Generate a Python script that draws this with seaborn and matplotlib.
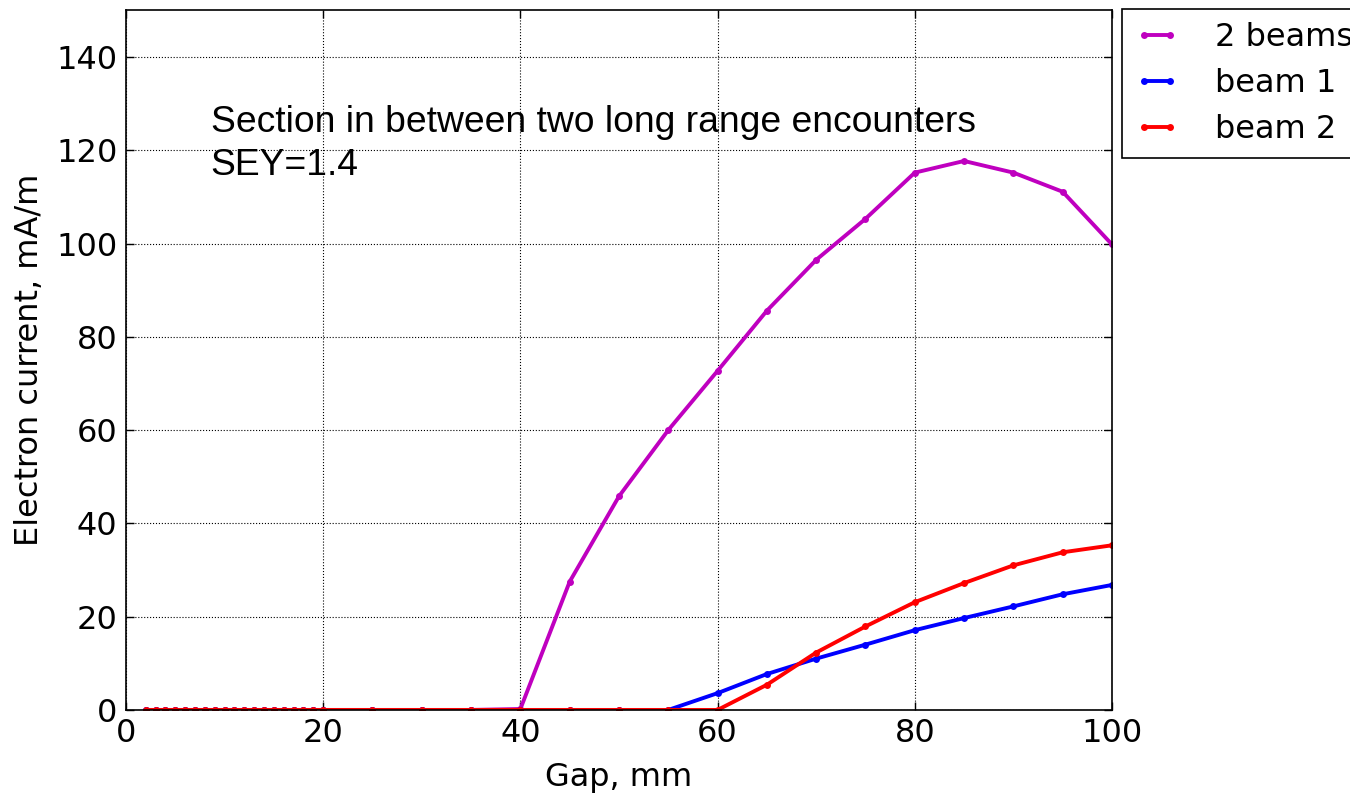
import numpy as np
import pandas as pd
import matplotlib
matplotlib.use("Agg")
import matplotlib.pyplot as plt
import seaborn as sns

gap = list(range(2, 21)) + [25, 30, 35, 40, 45, 50, 55, 60, 65, 70, 75, 80, 85, 90, 95, 100]
n_low = 19 + 3  # points from 2..20 and 25..35

two_beams = [0.0] * n_low + [0.2, 27.5, 45.8, 60.0, 72.7, 85.6, 96.5, 105.3, 115.2, 117.7, 115.2, 111.1, 99.8]
beam1 = [0.0] * n_low + [0.0, 0.0, 0.0, 0.0, 3.6, 7.7, 11.0, 14.0, 17.1, 19.7, 22.2, 24.8, 26.8]
beam2 = [0.0] * n_low + [0.0, 0.0, 0.0, 0.0, 0.0, 5.4, 12.3, 17.9, 23.1, 27.2, 31.0, 33.8, 35.3]

series_names = ["2 beams", "beam 1", "beam 2"]
colors = ["#bf00bf", "#0000ff", "#ff0000"]

df = pd.concat([
    pd.DataFrame({"gap": gap, "current": two_beams, "series": series_names[0]}),
    pd.DataFrame({"gap": gap, "current": beam1, "series": series_names[1]}),
    pd.DataFrame({"gap": gap, "current": beam2, "series": series_names[2]}),
])

sns.set_style("ticks")
plt.rcParams['font.family'] = ['DejaVu Sans']
for k in ['text.color', 'axes.labelcolor', 'xtick.color', 'ytick.color', 'axes.edgecolor']:
    plt.rcParams[k] = 'black'
plt.rcParams['xtick.direction'] = 'in'
plt.rcParams['ytick.direction'] = 'in'

fig = plt.figure(figsize=(13.5, 7.95), dpi=100)
ax = fig.add_axes([0.0933, 0.107, 0.7304, 0.880])

sns.lineplot(data=df, x="gap", y="current", hue="series", palette=dict(zip(series_names, colors)),
             marker="o", markersize=5, markeredgewidth=0, linewidth=2.8, ax=ax, legend=True)

ax.set_xlim(0, 100)
ax.set_ylim(0, 150)
ax.set_xticks([0, 20, 40, 60, 80, 100])
ax.set_yticks([0, 20, 40, 60, 80, 100, 120, 140])
ax.tick_params(axis='both', labelsize=23, direction='in', top=True, right=True, length=6, width=1,
               pad=6, colors='black')
ax.grid(True, color='black', linestyle=':', linewidth=0.8)
for s in ax.spines.values():
    s.set_linewidth(1.2)
    s.set_color('black')
ax.set_xlabel("Gap, mm", fontsize=23, labelpad=9, color='black')
ax.set_ylabel("Electron current, mA/m", fontsize=23, labelpad=8, color='black')

ax.text(8.6, 114.6, "Section in between two long range encounters\nSEY=1.4",
        fontsize=26.8, family=['Liberation Sans', 'DejaVu Sans'], va='baseline', ha='left',
        linespacing=1.32, color='black')

handles, labels = ax.get_legend_handles_labels()
leg = ax.legend(handles, labels, loc='upper left', bbox_to_anchor=(1.0101, 1.0014), borderaxespad=0,
                fontsize=23, frameon=True, fancybox=False, edgecolor='black', framealpha=1,
                handlelength=1.41, borderpad=0.4, labelspacing=0.47, handletextpad=1.1, numpoints=2)
leg.get_frame().set_linewidth(1.2)
for t in leg.get_texts():
    t.set_color('black')

fig.savefig("out.png", dpi=100)
